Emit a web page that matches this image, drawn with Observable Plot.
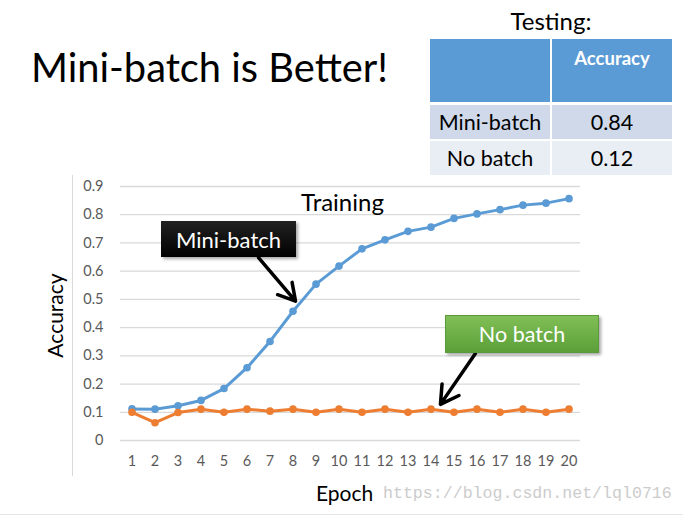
<!DOCTYPE html>
<html>
<head>
<meta charset="utf-8">
<script src="https://cdn.jsdelivr.net/npm/d3@7"></script>
<script src="https://cdn.jsdelivr.net/npm/@observablehq/plot@0.6"></script>
<style>
  html, body { margin:0; padding:0; background:#fff; }
  #wrap { position:relative; width:683px; height:517px; overflow:hidden; font-family: Lato, "Open Sans", sans-serif; }
  #wrap svg.plot { position:absolute; left:0; top:0; font-family: Lato, "Open Sans", sans-serif; }
  .abs { position:absolute; }
  .cell { position:absolute; display:flex; align-items:center; justify-content:center; color:#000; font-size:21px; }
</style>
</head>
<body>
<div id="wrap">
  <div class="abs" style="left:72px;top:175px;width:1px;height:301px;background:#d9d9d9"></div>
  <div class="abs" style="left:0;top:514px;width:683px;height:1px;background:#e6e6e6"></div>
  <svg class="abs" style="left:0;top:0" width="420" height="100">
    <text x="31" y="82" font-family="Lato" font-size="41" fill="#000" textLength="357" lengthAdjust="spacingAndGlyphs">Mini-batch is Better!</text>
  </svg>
  <div id="table"></div>
  <div id="chart"></div>
</div>
<script>
// ---- data ----
const epochs = [1,2,3,4,5,6,7,8,9,10,11,12,13,14,15,16,17,18,19,20];
const miniBatch = [0.112,0.111,0.123,0.142,0.184,0.258,0.351,0.458,0.554,0.618,0.679,0.711,0.741,0.756,0.787,0.803,0.818,0.834,0.841,0.857];
const noBatch = [0.100,0.063,0.099,0.111,0.100,0.111,0.104,0.111,0.100,0.111,0.100,0.111,0.100,0.111,0.100,0.111,0.100,0.111,0.100,0.111];
const yTicks = [0,0.1,0.2,0.3,0.4,0.5,0.6,0.7,0.8,0.9];
const seriesNames = ["Mini-batch","No batch"];
const testAccuracy = [0.84, 0.12];
const colors = {"Mini-batch":"#5B9BD5","No batch":"#ED7D31"};

const mbData = epochs.map((e,i)=>({epoch:e, acc:miniBatch[i], series:"Mini-batch"}));
const nbData = epochs.map((e,i)=>({epoch:e, acc:noBatch[i], series:"No batch"}));

const chart = Plot.plot({
  width:683, height:517,
  marginLeft:120, marginRight:103, marginTop:186, marginBottom:77,
  style:{background:"transparent", overflow:"visible"},
  x:{domain:[0.5,20.5], label:null},
  y:{domain:[0,0.9], label:null},
  marks:[
    Plot.gridY(yTicks, {stroke:"#d9d9d9", strokeOpacity:1, strokeWidth:1.3}),
    Plot.axisY(yTicks, {tickSize:0, tickPadding:17, fontSize:14.5, fill:"#595959", label:null,
      tickFormat:d=> d===0 ? "0" : d.toFixed(1)}),
    Plot.axisX(epochs, {tickSize:0, tickPadding:15, fontSize:14.5, fill:"#595959", label:null, tickFormat:d=>String(d)}),
    Plot.line(mbData, {x:"epoch", y:"acc", stroke:colors["Mini-batch"], strokeWidth:3}),
    Plot.dot(mbData, {x:"epoch", y:"acc", fill:colors["Mini-batch"], r:3.8}),
    Plot.line(nbData, {x:"epoch", y:"acc", stroke:colors["No batch"], strokeWidth:3}),
    Plot.dot(nbData, {x:"epoch", y:"acc", fill:colors["No batch"], r:3.8}),
    Plot.text(["Training"], {frameAnchor:"top", lineAnchor:"middle", dx:-8, dy:17, fontSize:24, fill:"#000"}),
    Plot.text(["Accuracy"], {frameAnchor:"left", textAnchor:"middle", lineAnchor:"middle", rotate:-90, dx:-64, dy:2, fontSize:21, fill:"#000"}),
    Plot.text(["Epoch"], {frameAnchor:"bottom", lineAnchor:"middle", dx:-6, dy:54, fontSize:21, fill:"#000"}),
    Plot.arrow([{x1:6.5, y1:0.648, x2:8.11, y2:0.494}], {x1:"x1", y1:"y1", x2:"x2", y2:"y2", stroke:"#000", strokeWidth:3.5, headLength:14}),
    Plot.arrow([{x1:15.93, y1:0.308, x2:14.41, y2:0.128}], {x1:"x1", y1:"y1", x2:"x2", y2:"y2", stroke:"#000", strokeWidth:3.5, headLength:14})
  ]
});
chart.classList.add("plot");
document.getElementById("chart").appendChild(chart);

// annotation boxes
const wrap = document.getElementById("wrap");
function box(text, left, top, w, h, bg, border, fs){
  const d = document.createElement("div");
  d.className = "cell";
  d.style.cssText += `left:${left}px;top:${top}px;width:${w}px;height:${h}px;background:${bg};color:#fff;box-shadow:2px 2px 3px rgba(0,0,0,0.35);border:${border};box-sizing:border-box;font-size:${fs}px;`;
  d.textContent = text;
  wrap.appendChild(d);
}
box(seriesNames[0], 161, 221, 135, 36, "linear-gradient(#222,#000)", "none", 22);
box(seriesNames[1], 445, 315, 154, 38, "linear-gradient(#80bf56,#5c9f38)", "1px solid #5a9a3a", 21.5);

// watermark
const wm = document.createElement("div");
wm.className = "abs";
wm.style.cssText = "left:383px;top:484px;font-family:'Liberation Mono','DejaVu Sans Mono',monospace;font-size:16.6px;color:#cccccc;white-space:nowrap";
wm.textContent = "https://blog.csdn.net/lql0716";
wrap.appendChild(wm);

// testing table
const t = document.getElementById("table");
function cell(text, left, top, w, h, bg, extra){
  const d = document.createElement("div");
  d.className = "cell";
  d.style.cssText += `left:${left}px;top:${top}px;width:${w}px;height:${h}px;background:${bg};${extra||""}`;
  d.textContent = text;
  t.appendChild(d);
}
cell("Testing:", 430, 4, 242, 32, "transparent", "font-size:24px;");
cell("", 430, 39, 120, 63, "#5B9BD5");
cell("Accuracy", 552, 39, 120, 63, "#5B9BD5", "color:#fff;font-weight:bold;font-size:18.5px;align-items:flex-start;padding-top:8px;box-sizing:border-box;");
cell(seriesNames[0], 430, 105, 120, 34, "#CFD9EA", "font-size:21.5px;");
cell(testAccuracy[0].toFixed(2), 552, 105, 120, 34, "#CFD9EA", "font-size:21.5px;");
cell(seriesNames[1], 430, 141, 120, 34, "#E9EDF4", "font-size:21.5px;");
cell(testAccuracy[1].toFixed(2), 552, 141, 120, 34, "#E9EDF4", "font-size:21.5px;");
</script>
</body>
</html>
